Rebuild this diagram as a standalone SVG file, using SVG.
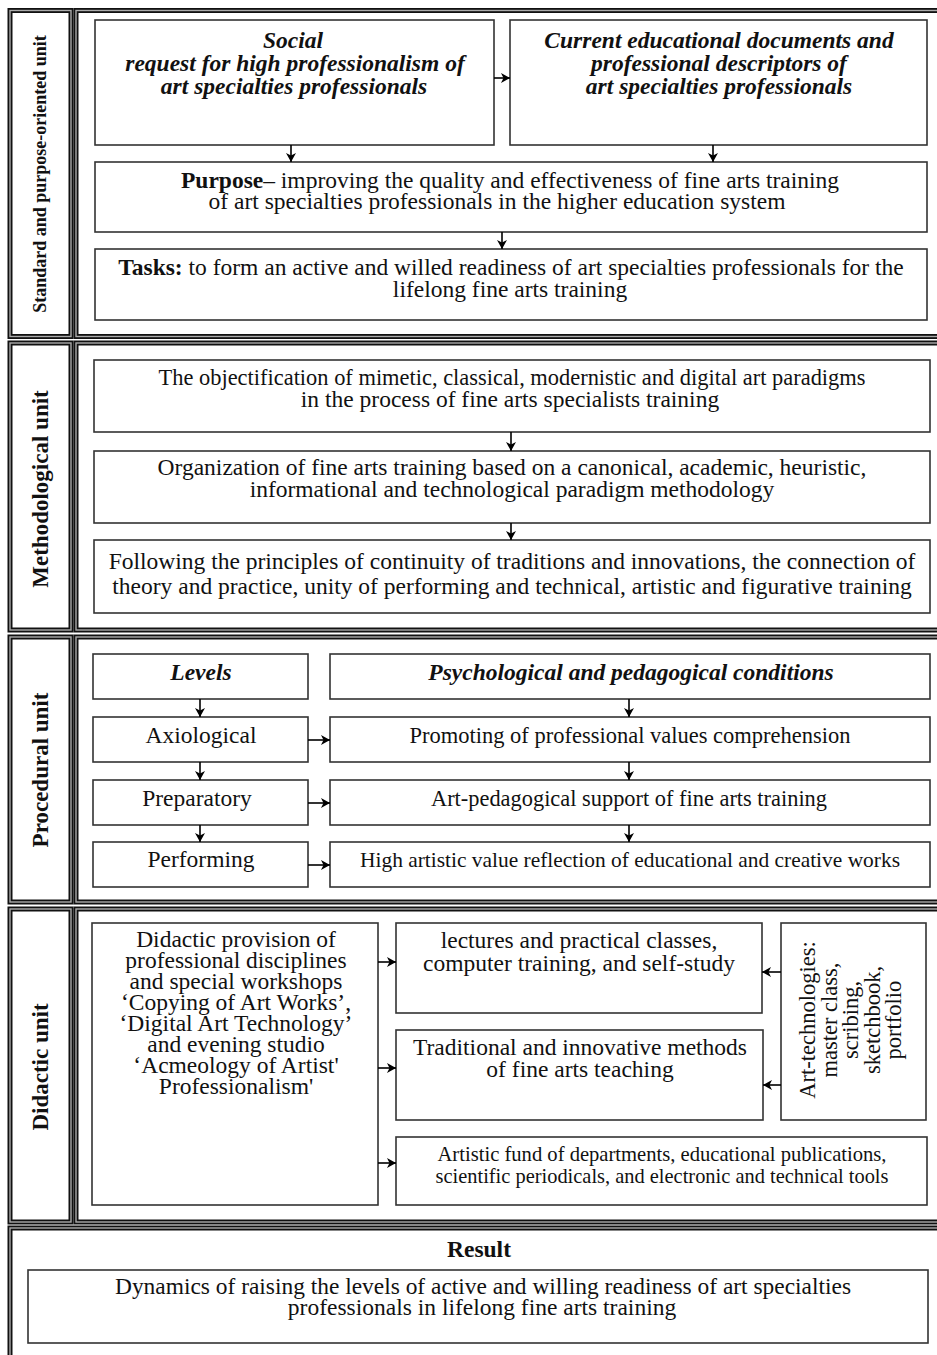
<svg xmlns="http://www.w3.org/2000/svg" width="937" height="1355" viewBox="0 0 937 1355">
<defs>
<marker id="ah" markerUnits="userSpaceOnUse" markerWidth="10" markerHeight="10" refX="9" refY="5" orient="auto">
<path d="M0,0 L9,5 L0,10 L2.5,5 Z" fill="#000"/>
</marker>
</defs>
<style>
.frame{fill:#fff;stroke:#111;stroke-width:5}
.frame2{fill:none;stroke:#aaa;stroke-width:1.4}
.box{fill:#fff;stroke:#333;stroke-width:1.6}
.t{font-family:"Liberation Serif","Times New Roman",serif;font-size:23.5px;fill:#111;text-anchor:middle}
.n{font-size:22px}
.bi{font-weight:bold;font-style:italic}
.b{font-weight:bold}
.lab{font-family:"Liberation Serif","Times New Roman",serif;font-weight:bold;font-size:23px;fill:#111;text-anchor:middle}
.c{fill:none;stroke:#000;stroke-width:1.6;marker-end:url(#ah)}
</style>
<rect width="937" height="1355" fill="#fff"/>

<!-- Section frames -->
<g id="frames">
<rect class="frame" x="10" y="10.5" width="61" height="326"/>
<rect class="frame2" x="10" y="10.5" width="61" height="326"/>
<rect class="frame" x="76" y="10.5" width="880" height="326"/>
<rect class="frame2" x="76" y="10.5" width="880" height="326"/>

<rect class="frame" x="10" y="343" width="61" height="287"/>
<rect class="frame2" x="10" y="343" width="61" height="287"/>
<rect class="frame" x="76" y="343" width="880" height="287"/>
<rect class="frame2" x="76" y="343" width="880" height="287"/>

<rect class="frame" x="10" y="637" width="61" height="265"/>
<rect class="frame2" x="10" y="637" width="61" height="265"/>
<rect class="frame" x="76" y="637" width="880" height="265"/>
<rect class="frame2" x="76" y="637" width="880" height="265"/>

<rect class="frame" x="10" y="909" width="61" height="313"/>
<rect class="frame2" x="10" y="909" width="61" height="313"/>
<rect class="frame" x="76" y="909" width="880" height="313"/>
<rect class="frame2" x="76" y="909" width="880" height="313"/>

<rect class="frame" x="10" y="1228" width="946" height="150"/>
<rect class="frame2" x="10" y="1228" width="946" height="150"/>
</g>

<g id="labels">
<text class="lab" style="font-size:18px" transform="translate(46,174) rotate(-90)">Standard and purpose-oriented unit</text>
<text class="lab" transform="translate(48,489) rotate(-90)">Methodological unit</text>
<text class="lab" transform="translate(48,770) rotate(-90)">Procedural unit</text>
<text class="lab" transform="translate(48,1067) rotate(-90)">Didactic unit</text>
</g>

<!-- Standard and purpose-oriented unit -->
<g id="social">
<rect class="box" x="95" y="20" width="399" height="125"/>
<text class="t bi" x="293" y="48">Social</text>
<text class="t bi" x="295" y="71">request for high professionalism of</text>
<text class="t bi" x="294" y="94">art specialties professionals</text>
</g>
<g id="current">
<rect class="box" x="510" y="20" width="417" height="125"/>
<text class="t bi" x="719" y="48">Current educational documents and</text>
<text class="t bi" x="719" y="71">professional descriptors of</text>
<text class="t bi" x="719" y="94">art specialties professionals</text>
</g>
<g id="purpose">
<rect class="box" x="95" y="162" width="832" height="70"/>
<text class="t" x="510" y="188"><tspan class="b">Purpose</tspan>– improving the quality and effectiveness of fine arts training</text>
<text class="t" x="497" y="209">of art specialties professionals in the higher education system</text>
</g>
<g id="tasks">
<rect class="box" x="95" y="249" width="832" height="71"/>
<text class="t" x="511" y="275"><tspan class="b">Tasks:</tspan> to form an active and willed readiness of art specialties professionals for the</text>
<text class="t" x="510" y="297">lifelong fine arts training</text>
</g>

<!-- Methodological unit -->
<g id="m1">
<rect class="box" x="94" y="360" width="836" height="72"/>
<text class="t" x="512" y="385" textLength="707" lengthAdjust="spacingAndGlyphs">The objectification of mimetic, classical, modernistic and digital art paradigms</text>
<text class="t" x="510" y="407">in the process of fine arts specialists training</text>
</g>
<g id="m2">
<rect class="box" x="94" y="451" width="836" height="72"/>
<text class="t" x="512" y="475">Organization of fine arts training based on a canonical, academic, heuristic,</text>
<text class="t" x="512" y="497">informational and technological paradigm methodology</text>
</g>
<g id="m3">
<rect class="box" x="94" y="540" width="836" height="73"/>
<text class="t" x="512" y="569">Following the principles of continuity of traditions and innovations, the connection of</text>
<text class="t" x="512" y="594">theory and practice, unity of performing and technical, artistic and figurative training</text>
</g>

<!-- Procedural unit -->
<g id="levels">
<rect class="box" x="93" y="654" width="215" height="45"/>
<text class="t bi" x="201" y="680">Levels</text>
</g>
<g id="axiological">
<rect class="box" x="93" y="717" width="215" height="45"/>
<text class="t" x="201" y="743">Axiological</text>
</g>
<g id="preparatory">
<rect class="box" x="93" y="780" width="215" height="45"/>
<text class="t" x="197" y="806">Preparatory</text>
</g>
<g id="performing">
<rect class="box" x="93" y="842" width="215" height="45"/>
<text class="t" x="201" y="867">Performing</text>
</g>
<g id="conditions">
<rect class="box" x="330" y="654" width="600" height="45"/>
<text class="t bi" x="631" y="680">Psychological and pedagogical conditions</text>
</g>
<g id="promoting">
<rect class="box" x="330" y="717" width="600" height="45"/>
<text class="t" x="630" y="743" textLength="441" lengthAdjust="spacingAndGlyphs">Promoting of professional values comprehension</text>
</g>
<g id="support">
<rect class="box" x="330" y="780" width="600" height="45"/>
<text class="t" x="629" y="806" textLength="396" lengthAdjust="spacingAndGlyphs">Art-pedagogical support of fine arts training</text>
</g>
<g id="reflection">
<rect class="box" x="330" y="842" width="600" height="45"/>
<text class="t n" x="630" y="867" textLength="540" lengthAdjust="spacingAndGlyphs">High artistic value reflection of educational and creative works</text>
</g>

<!-- Didactic unit -->
<g id="provision">
<rect class="box" x="92" y="923" width="286" height="282"/>
<text class="t" x="236" y="947">Didactic provision of</text>
<text class="t" x="236" y="968">professional disciplines</text>
<text class="t" x="236" y="989">and special workshops</text>
<text class="t" x="236" y="1010">‘Copying of Art Works’,</text>
<text class="t" x="236" y="1031">‘Digital Art Technology’</text>
<text class="t" x="236" y="1052">and evening studio</text>
<text class="t" x="236" y="1073">‘Acmeology of Artist'</text>
<text class="t" x="236" y="1094">Professionalism'</text>
</g>
<g id="lectures">
<rect class="box" x="396" y="923" width="366" height="90"/>
<text class="t" x="579" y="948">lectures and practical classes,</text>
<text class="t" x="579" y="971">computer training, and self-study</text>
</g>
<g id="methods">
<rect class="box" x="396" y="1030" width="367" height="90"/>
<text class="t" x="580" y="1055">Traditional and innovative methods</text>
<text class="t" x="580" y="1077">of fine arts teaching</text>
</g>
<g id="arttech">
<rect class="box" x="781" y="923" width="145" height="197"/>
<text class="t" style="font-size:22.5px" x="0" y="0" transform="translate(815,1020) rotate(-90)">Art-technologies:</text>
<text class="t" style="font-size:22.5px" x="0" y="0" transform="translate(836.5,1020) rotate(-90)">master class,</text>
<text class="t" style="font-size:22.5px" x="0" y="0" transform="translate(858,1020) rotate(-90)">scribing,</text>
<text class="t" style="font-size:22.5px" x="0" y="0" transform="translate(879.5,1020) rotate(-90)">sketchbook,</text>
<text class="t" style="font-size:22.5px" x="0" y="0" transform="translate(901,1020) rotate(-90)">portfolio</text>
</g>
<g id="fund">
<rect class="box" x="396" y="1137" width="531" height="68"/>
<text class="t n" x="662" y="1161" textLength="449" lengthAdjust="spacingAndGlyphs">Artistic fund of departments, educational publications,</text>
<text class="t n" x="662" y="1183" textLength="453" lengthAdjust="spacingAndGlyphs">scientific periodicals, and electronic and technical tools</text>
</g>

<!-- Result -->
<g id="result">
<text class="t b" x="479" y="1257">Result</text>
<rect class="box" x="28" y="1270" width="900" height="73"/>
<text class="t" x="483" y="1294" textLength="736" lengthAdjust="spacingAndGlyphs">Dynamics of raising the levels of active and willing readiness of art specialties</text>
<text class="t" x="482" y="1315">professionals in lifelong fine arts training</text>
</g>

<g id="connectors">
<line class="c" x1="494" y1="78" x2="510" y2="78"/>
<line class="c" x1="291" y1="145" x2="291" y2="162"/>
<line class="c" x1="713" y1="145" x2="713" y2="162"/>
<line class="c" x1="502" y1="232" x2="502" y2="249"/>
<line class="c" x1="511" y1="432" x2="511" y2="451"/>
<line class="c" x1="511" y1="523" x2="511" y2="540"/>
<line class="c" x1="200" y1="699" x2="200" y2="717"/>
<line class="c" x1="200" y1="762" x2="200" y2="780"/>
<line class="c" x1="200" y1="825" x2="200" y2="842"/>
<line class="c" x1="629" y1="699" x2="629" y2="717"/>
<line class="c" x1="629" y1="762" x2="629" y2="780"/>
<line class="c" x1="629" y1="825" x2="629" y2="842"/>
<line class="c" x1="308" y1="740" x2="330" y2="740"/>
<line class="c" x1="308" y1="803" x2="330" y2="803"/>
<line class="c" x1="308" y1="865" x2="330" y2="865"/>
<line class="c" x1="378" y1="962" x2="396" y2="962"/>
<line class="c" x1="378" y1="1068" x2="396" y2="1068"/>
<line class="c" x1="378" y1="1163" x2="396" y2="1163"/>
<line class="c" x1="781" y1="972" x2="762" y2="972"/>
<line class="c" x1="781" y1="1085" x2="763" y2="1085"/>
</g>
</svg>
